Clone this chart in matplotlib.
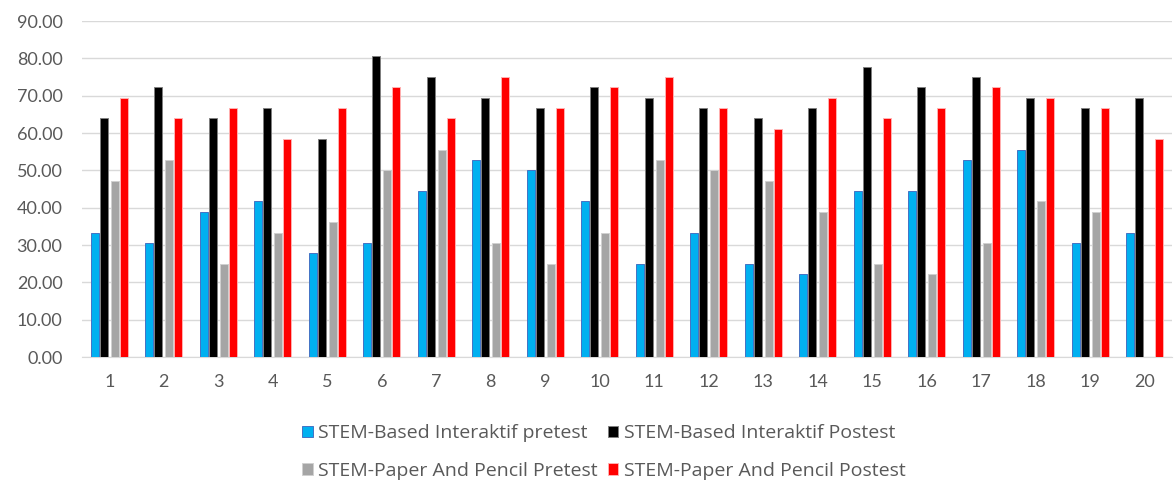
import numpy as np
import matplotlib
matplotlib.use("Agg")
from matplotlib import pyplot as plt

plt.rcParams['font.family'] = ['Lato', 'DejaVu Sans']

students = [str(i) for i in range(1, 21)]
interaktif_pre = [33.33, 30.56, 38.89, 41.67, 27.78, 30.56, 44.44, 52.78, 50.00, 41.67,
                  25.00, 33.33, 25.00, 22.22, 44.44, 44.44, 52.78, 55.56, 30.56, 33.33]
interaktif_post = [63.89, 72.22, 63.89, 66.67, 58.33, 80.56, 75.00, 69.44, 66.67, 72.22,
                   69.44, 66.67, 63.89, 66.67, 77.78, 72.22, 75.00, 69.44, 66.67, 69.44]
paper_pre = [47.22, 52.78, 25.00, 33.33, 36.11, 50.00, 55.56, 30.56, 25.00, 33.33,
             52.78, 50.00, 47.22, 38.89, 25.00, 22.22, 30.56, 41.67, 38.89, 0.00]
paper_post = [69.44, 63.89, 66.67, 58.33, 66.67, 72.22, 63.89, 75.00, 66.67, 72.22,
              75.00, 66.67, 61.11, 69.44, 63.89, 66.67, 72.22, 69.44, 66.67, 58.33]

series = [
    ("STEM-Based Interaktif pretest", interaktif_pre, "#00b0f0", "#4472c4"),
    ("STEM-Based Interaktif Postest", interaktif_post, "#000000", "#7f7f7f"),
    ("STEM-Paper And Pencil Pretest", paper_pre, "#a5a5a5", "#d0d0d0"),
    ("STEM-Paper And Pencil Postest", paper_post, "#ff0000", "#ffb0b0"),
]

fig = plt.figure(figsize=(11.74, 4.82), dpi=100)
ax = fig.add_axes([82 / 1174, 125 / 482, 1090 / 1174, 336 / 482])

x = np.arange(len(students))
offsets = [-0.265, -0.1, 0.1, 0.265]
width = 0.145
bars = []
for (label, vals, color, edge), off in zip(series, offsets):
    b = ax.bar(x + off, vals, width, color=color, edgecolor=edge, linewidth=0.7,
               label=label, zorder=3)
    bars.append(b)

ax.set_xlim(-0.5, len(students) - 0.5)
ax.set_ylim(0, 90)
ax.set_yticks(np.arange(0, 91, 10))
ax.set_yticklabels(["%.2f" % v for v in np.arange(0, 91, 10)])
ax.set_xticks(x)
ax.set_xticklabels(students)
ax.yaxis.grid(True, color="#d9d9d9", linewidth=1.0, zorder=0)
ax.set_axisbelow(True)
for s in ["top", "right", "left"]:
    ax.spines[s].set_visible(False)
ax.spines["bottom"].set_color("#d9d9d9")
ax.tick_params(axis="both", length=0, labelsize=13, colors="#595959")
ax.tick_params(axis="x", pad=12)
ax.tick_params(axis="y", pad=14)

# legend: row1 blue, black; row2 gray, red
order = [0, 2, 1, 3]
fig.legend([bars[i] for i in order], [series[i][0] for i in order],
           loc="center", bbox_to_anchor=(604 / 1174, 30 / 482), ncol=2,
           frameon=False, prop={"family": ["Open Sans", "DejaVu Sans"], "size": 14},
           labelcolor="#595959",
           handlelength=0.55, handleheight=0.55, handletextpad=0.3,
           columnspacing=0.5, labelspacing=1.0)

fig.savefig("out.png", dpi=100)
